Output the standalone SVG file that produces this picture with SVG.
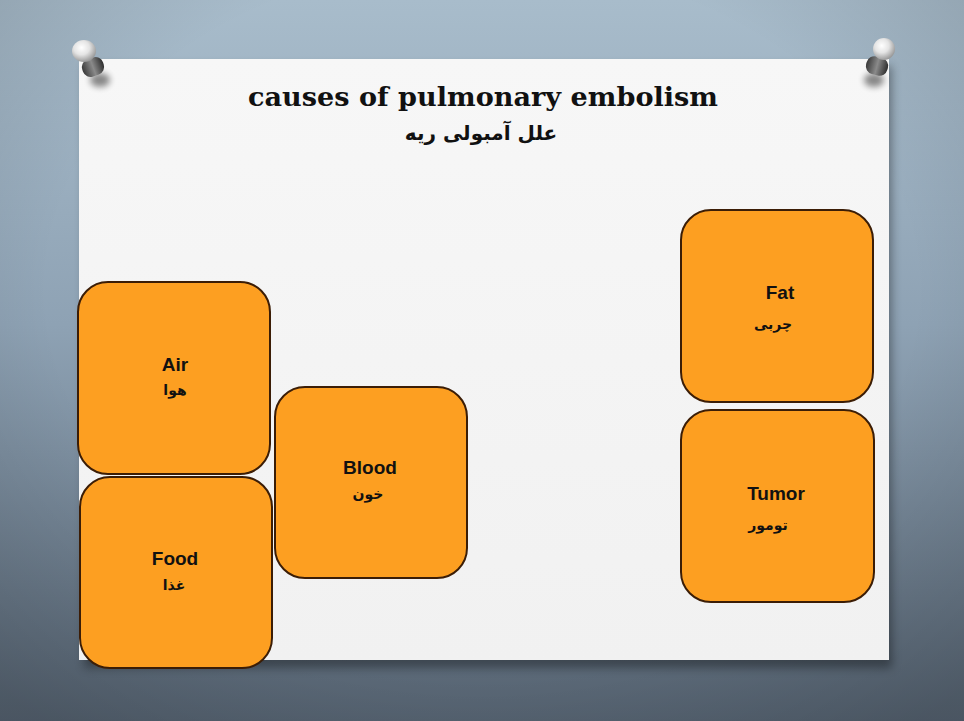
<svg xmlns="http://www.w3.org/2000/svg" width="964" height="721" viewBox="0 0 964 721">
  <defs>
    <linearGradient id="bg" x1="0" y1="0" x2="0" y2="1">
      <stop offset="0" stop-color="#a8bccb"/>
      <stop offset="0.45" stop-color="#8ea2b4"/>
      <stop offset="1" stop-color="#5a6877"/>
    </linearGradient>
    <radialGradient id="vig" cx="0.5" cy="0.4" r="0.75">
      <stop offset="0.6" stop-color="#000" stop-opacity="0"/>
      <stop offset="1" stop-color="#000" stop-opacity="0.18"/>
    </radialGradient>
    <linearGradient id="paper" x1="0" y1="0" x2="0" y2="1">
      <stop offset="0" stop-color="#f7f7f7"/>
      <stop offset="1" stop-color="#f1f1f1"/>
    </linearGradient>
    <filter id="shadow" x="-5%" y="-5%" width="110%" height="115%">
      <feGaussianBlur stdDeviation="5"/>
    </filter>
    <filter id="soft" x="-50%" y="-50%" width="200%" height="200%">
      <feGaussianBlur stdDeviation="3"/>
    </filter>
    <radialGradient id="pinHead" cx="0.4" cy="0.35" r="0.65">
      <stop offset="0" stop-color="#ffffff"/>
      <stop offset="0.5" stop-color="#e4e4e4"/>
      <stop offset="1" stop-color="#9a9a9a"/>
    </radialGradient>
    <linearGradient id="pinBody" x1="0" y1="0" x2="1" y2="0">
      <stop offset="0" stop-color="#3a3a3a"/>
      <stop offset="0.5" stop-color="#8a8a8a"/>
      <stop offset="1" stop-color="#2e2e2e"/>
    </linearGradient>
    <style>
      .box { fill: #fd9f21; stroke: #3b1d06; stroke-width: 2; }
      .en { font-family: "Liberation Sans", Arial, sans-serif; font-weight: bold; font-size: 19px; fill: #111; text-anchor: middle; }
      .fa { font-family: "DejaVu Sans", "Noto Sans", sans-serif; font-weight: bold; font-size: 14px; fill: #111; text-anchor: middle; }
    </style>
  </defs>

  <!-- backdrop -->
  <rect width="964" height="721" fill="url(#bg)"/>
  <rect width="964" height="721" fill="url(#vig)"/>

  <!-- paper sheet with soft shadow -->
  <rect x="84" y="66" width="808" height="602" fill="#000" opacity="0.35" filter="url(#shadow)"/>
  <rect x="79" y="59" width="810" height="601" fill="url(#paper)"/>

  <!-- pins -->
  <g id="pin-left">
    <ellipse cx="100" cy="80" rx="10" ry="7" fill="#000" opacity="0.45" filter="url(#soft)"/>
    <rect x="82" y="58" width="22" height="18" rx="8" fill="url(#pinBody)" transform="rotate(-20 93 67)"/>
    <ellipse cx="84" cy="51" rx="12" ry="11" fill="url(#pinHead)"/>
  </g>
  <g id="pin-right">
    <ellipse cx="874" cy="80" rx="10" ry="7" fill="#000" opacity="0.45" filter="url(#soft)"/>
    <rect x="866" y="57" width="22" height="18" rx="8" fill="url(#pinBody)" transform="rotate(15 877 66)"/>
    <ellipse cx="884" cy="49" rx="11" ry="11" fill="url(#pinHead)"/>
  </g>

  <!-- title -->
  <g id="title">
    <text x="483" y="106" font-family="'DejaVu Serif', 'Liberation Serif', serif" font-weight="bold" font-size="26" fill="#111" text-anchor="middle" textLength="470" lengthAdjust="spacingAndGlyphs">causes of pulmonary embolism</text>
    <text x="481" y="140" font-family="'DejaVu Sans', 'Noto Sans', sans-serif" font-weight="bold" font-size="20" fill="#111" text-anchor="middle" direction="rtl">علل آمبولی ریه</text>
  </g>

  <!-- cause boxes -->
  <g id="node-air">
    <rect class="box" x="78" y="282" width="192" height="192" rx="30"/>
    <text class="en" x="175" y="371">Air</text>
    <text class="fa" x="175" y="395">هوا</text>
  </g>
  <g id="node-food">
    <rect class="box" x="80" y="477" width="192" height="191" rx="30"/>
    <text class="en" x="175" y="565">Food</text>
    <text class="fa" x="174" y="590">غذا</text>
  </g>
  <g id="node-blood">
    <rect class="box" x="275" y="387" width="192" height="191" rx="30"/>
    <text class="en" x="370" y="474">Blood</text>
    <text class="fa" x="368" y="499">خون</text>
  </g>
  <g id="node-fat">
    <rect class="box" x="681" y="210" width="192" height="192" rx="30"/>
    <text class="en" x="780" y="299">Fat</text>
    <text class="fa" x="773" y="329">چربی</text>
  </g>
  <g id="node-tumor">
    <rect class="box" x="681" y="410" width="193" height="192" rx="30"/>
    <text class="en" x="776" y="500">Tumor</text>
    <text class="fa" x="768" y="530">تومور</text>
  </g>

  <g id="connectors"></g>
</svg>
